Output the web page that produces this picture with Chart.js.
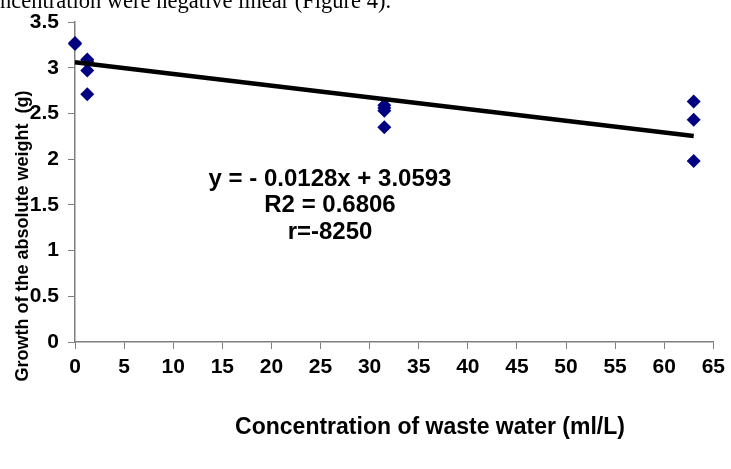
<!DOCTYPE html>
<html>
<head>
<meta charset="utf-8">
<script src="https://cdn.jsdelivr.net/npm/chart.js@4.4.1/dist/chart.umd.min.js"></script>
<style>
  html, body { margin: 0; padding: 0; background: #fff; }
  #wrap { position: relative; width: 731px; height: 469px; overflow: hidden; }
  #lead {
    position: absolute; left: 0; top: -12px; white-space: nowrap;
    font-family: "Liberation Serif", "Times New Roman", serif; font-size: 22.5px; color: #000;
  }
  canvas { position: absolute; left: 0; top: 0; }
</style>
</head>
<body>
<div id="wrap">
  <canvas id="chart" width="731" height="469"></canvas>
  <div id="lead">ncentration were negative linear (Figure 4).</div>
</div>
<script>
// concentration (ml/L) and growth of absolute weight (g)
const concX   = [0,    0,    1.25, 1.25, 1.25, 1.25, 31.5, 31.5, 31.5, 31.5, 63,   63,   63];
const growthY = [3.27, 3.26, 3.09, 3.07, 2.97, 2.71, 2.59, 2.56, 2.53, 2.35, 2.63, 2.43, 1.98];

// fitted line y = -0.0128x + 3.0593, endpoints
const fitX = [0, 63];
const fitY = [3.059, 2.253];

const xTicks = [0, 5, 10, 15, 20, 25, 30, 35, 40, 45, 50, 55, 60, 65];
const yTicks = ['0', '0.5', '1', '1.5', '2', '2.5', '3', '3.5'];

const eqLines = ['y = - 0.0128x + 3.0593', 'R2 = 0.6806', 'r=-8250'];
const xTitle = 'Concentration of waste water (ml/L)';
const yTitle = 'Growth of the absolute weight  (g)';

const AXIS = '#7f7f7f';
const FONT = '"Liberation Sans", Arial, sans-serif';

// titles + equation drawn by hand so they sit where the original puts them
const textPlugin = {
    id: 'texts',
    afterDraw(chart) {
        const ctx = chart.ctx;
        ctx.save();
        ctx.fillStyle = '#000';
        ctx.textAlign = 'center';
        ctx.textBaseline = 'middle';

        ctx.font = 'bold 24px ' + FONT;
        eqLines.forEach((t, i) => ctx.fillText(t, 330, 179 + i * 26.5));

        ctx.font = 'bold 23px ' + FONT;
        ctx.fillText(xTitle, 430, 428);

        ctx.font = 'bold 18px ' + FONT;
        ctx.translate(23, 236);
        ctx.rotate(-Math.PI / 2);
        ctx.fillText(yTitle, 0, 0);
        ctx.restore();
    }
};

new Chart(document.getElementById('chart'), {
    type: 'scatter',
    data: {
        datasets: [
            {
                type: 'line',
                data: fitX.map((x, i) => ({ x, y: fitY[i] })),
                borderColor: '#000',
                borderWidth: 4.5,
                pointRadius: 0,
                fill: false,
                clip: false
            },
            {
                data: concX.map((x, i) => ({ x, y: growthY[i] })),
                pointStyle: 'rectRot',
                pointRadius: 7,
                backgroundColor: '#000080',
                borderColor: '#000080',
                borderWidth: 0,
                clip: false
            }
        ]
    },
    options: {
        responsive: false,
        animation: false,
        layout: { padding: { left: 0, right: 13, top: 22, bottom: 0 } },
        plugins: { legend: { display: false }, tooltip: { enabled: false } },
        scales: {
            x: {
                type: 'linear', min: 0, max: 65,
                afterBuildTicks: s => { s.ticks = xTicks.map(v => ({ value: v })); },
                afterFit: s => { s.height = 127; },
                ticks: {
                    color: '#000', padding: 6,
                    font: { family: FONT, size: 21, weight: 'bold' },
                    maxRotation: 0, autoSkip: false
                },
                grid: { drawOnChartArea: false, drawTicks: true, tickLength: 7, color: AXIS },
                border: { color: AXIS, width: 1.5 }
            },
            y: {
                type: 'linear', min: 0, max: 3.5,
                afterBuildTicks: s => { s.ticks = yTicks.map(v => ({ value: +v })); },
                afterFit: s => { s.width = 75; },
                ticks: {
                    color: '#000', padding: 9,
                    font: { family: FONT, size: 21, weight: 'bold' },
                    callback: v => String(v)
                },
                grid: { drawOnChartArea: false, drawTicks: true, tickLength: 7, color: AXIS },
                border: { color: AXIS, width: 1.5 }
            }
        }
    },
    plugins: [textPlugin]
});
</script>
</body>
</html>
